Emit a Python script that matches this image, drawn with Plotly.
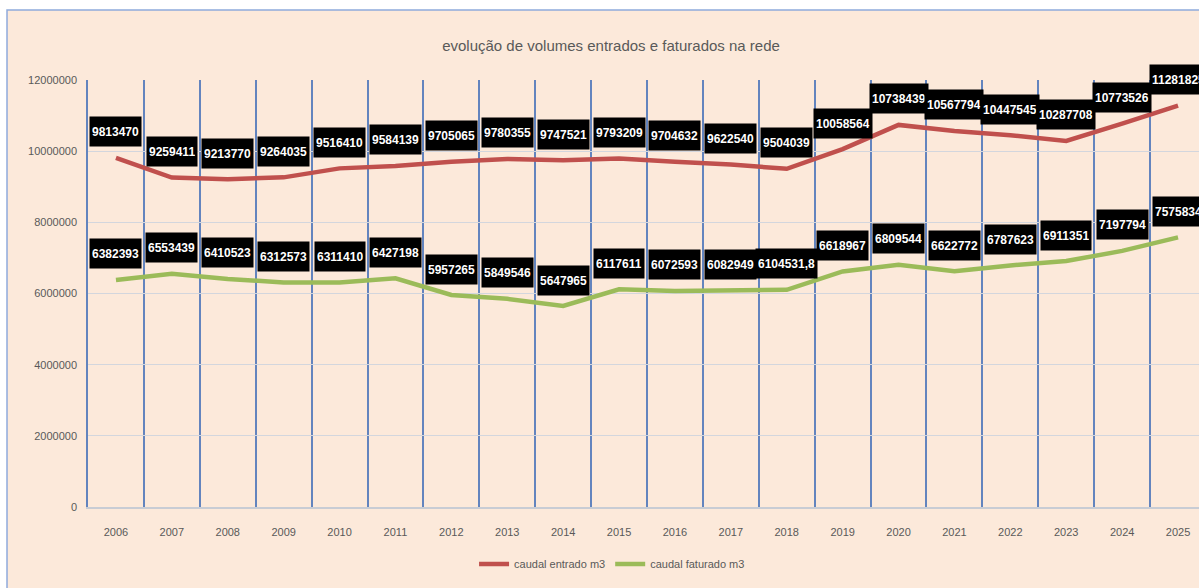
import plotly.graph_objects as go

# Annual volumes (m3)
years = [str(y) for y in range(2006, 2026)]
caudal_entrado = [9813470, 9259411, 9213770, 9264035, 9516410, 9584139, 9705065,
                  9780355, 9747521, 9793209, 9704632, 9622540, 9504039, 10058564,
                  10738439, 10567794, 10447545, 10287708, 10773526, 11281825]
caudal_faturado = [6382393, 6553439, 6410523, 6312573, 6311410, 6427198, 5957265,
                   5849546, 5647965, 6117611, 6072593, 6082949, 6104531.8, 6618967,
                   6809544, 6622772, 6787623, 6911351, 7197794, 7575834]
y_ticks = [0, 2000000, 4000000, 6000000, 8000000, 10000000, 12000000]

RED = "#C0504D"
GREEN = "#9BBB59"
TEXT = "#595959"
GRID_V = "#6384BE"
FONT = "Liberation Sans, Arial, sans-serif"


def fmt(v):
    # Portuguese decimal comma for non-integer values
    if float(v).is_integer():
        return str(int(v))
    return str(v).replace(".", ",")


fig = go.Figure()
fig.add_trace(go.Scatter(x=years, y=caudal_entrado, mode="lines", name="caudal entrado m3",
                         line=dict(color=RED, width=4.5)))
fig.add_trace(go.Scatter(x=years, y=caudal_faturado, mode="lines", name="caudal faturado m3",
                         line=dict(color=GREEN, width=4.5)))

# Value labels: white on black boxes above each point
annotations = []
for series in (caudal_entrado, caudal_faturado):
    for i, v in enumerate(series):
        annotations.append(dict(
            x=i, y=v, xref="x", yref="y", text="<b>" + fmt(v) + "</b>",
            showarrow=False, yshift=26, yanchor="middle", xanchor="center",
            bgcolor="black", borderpad=2, height=25,
            font=dict(family=FONT, size=12, color="white"),
        ))

fig.update_layout(
    width=1199, height=588,
    margin=dict(l=88, r=0, t=80, b=81),
    paper_bgcolor="white",
    plot_bgcolor="rgba(0,0,0,0)",
    font=dict(family=FONT, size=11, color=TEXT),
    title=dict(text="evolução de volumes entrados e faturados na rede",
               x=0.5096, xanchor="center", y=0.923, yanchor="middle",
               font=dict(family=FONT, size=15, color=TEXT)),
    showlegend=True,
    legend=dict(orientation="h", x=0.4717, xanchor="center", y=-0.1335, yanchor="middle",
                font=dict(family=FONT, size=11, color=TEXT), itemwidth=30,
                bgcolor="rgba(0,0,0,0)"),
    annotations=annotations,
    shapes=[dict(type="rect", xref="paper", yref="paper",
                 x0=-0.0729, x1=1.02, y0=-0.25, y1=1.164,
                 fillcolor="#FCE9DA", line=dict(color="#8FAADC", width=1.5),
                 layer="below")],
)

fig.update_xaxes(
    type="category", range=[-0.5, 19.375],
    tickson="boundaries", showgrid=True, gridcolor=GRID_V, gridwidth=1.5,
    ticks="", ticklabelstandoff=14, showline=True, linecolor="#C8CCD4", linewidth=1.5,
    tickfont=dict(family=FONT, size=11, color=TEXT),
    zeroline=False,
)
fig.update_yaxes(
    range=[0, 12000000], tickvals=y_ticks, tickformat="d",
    showgrid=True, gridcolor="#D3D6DD", gridwidth=1,
    zeroline=False, showline=True, linecolor=GRID_V, linewidth=1.5,
    ticks="", ticklabelstandoff=7,
    tickfont=dict(family=FONT, size=11, color=TEXT),
)

fig.write_html("out.html")
